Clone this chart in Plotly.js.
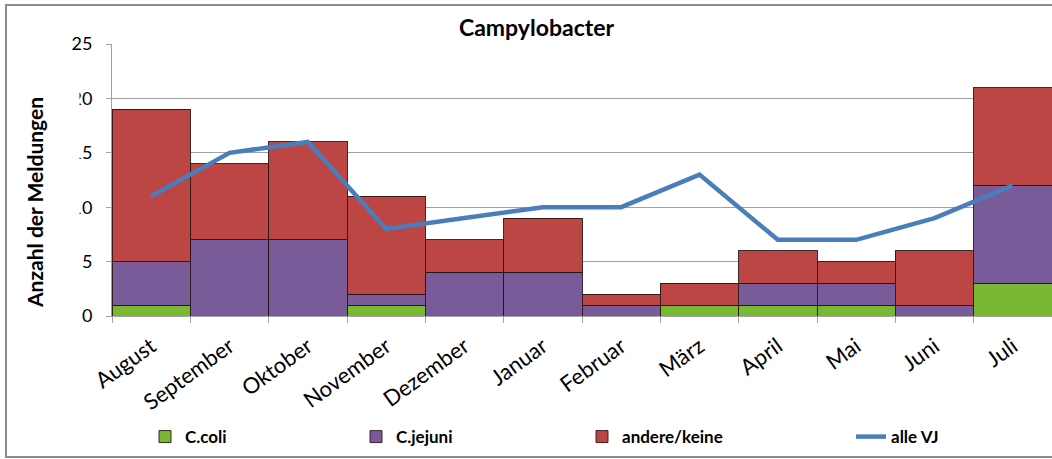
<!DOCTYPE html>
<html>
<head>
<meta charset="utf-8">
<script src="https://cdn.plot.ly/plotly-3.0.1.min.js"></script>
<style>html,body{margin:0;padding:0;background:#fff}#chart{width:1052px;height:459px}</style>
</head>
<body>
<div id="chart"></div>
<script>
const months = ["August","September","Oktober","November","Dezember","Januar","Februar","März","April","Mai","Juni","Juli"];
const cColi = [1, null, null, 1, null, null, null, 1, 1, 1, null, 3];
const cJejuni = [4, 7, 7, 1, 4, 4, 1, null, 2, 2, 1, 9];
const andere = [14, 7, 9, 9, 3, 5, 1, 2, 3, 2, 5, 9];
const alleVJ = [11, 15, 16, 8, 9, 10, 10, 13, 7, 7, 9, 12];
const yTickVals = [0, 5, 10, 15, 20, 25];
const yTickText = ["0", "5", "10", "15", "20", "25"];

const FONT = "Lato, 'Open Sans', sans-serif";
const edge = {color: "rgba(40,20,20,0.9)", width: 1};

const traces = [
  {type: "bar", name: "C.coli", x: months, y: cColi, marker: {color: "#78B833", line: edge}, legend: "legend"},
  {type: "bar", name: "C.jejuni", x: months, y: cJejuni, marker: {color: "#7A5B99", line: edge}, legend: "legend2"},
  {type: "bar", name: "andere/keine", x: months, y: andere, marker: {color: "#BC4644", line: edge}, legend: "legend3"},
  {type: "scatter", mode: "lines", name: "alle VJ", x: months, y: alleVJ, line: {color: "#4A7EBB", width: 4.5}, legend: "legend4"}
];

function lg(px) {
  return {x: (px - 112) / 940, xanchor: "left", y: -0.445, yanchor: "middle", orientation: "h",
    bgcolor: "rgba(0,0,0,0)", font: {family: FONT, size: 17, color: "#000", weight: "bold"}};
}

const layout = {
  width: 1052, height: 459,
  margin: {l: 112, r: 0, t: 44, b: 143},
  paper_bgcolor: "#fff", plot_bgcolor: "#fff",
  barmode: "stack", bargap: 0,
  showlegend: true,
  title: {text: "<b>Campylobacter</b>", x: 0.51, xref: "container", xanchor: "center", y: 1 - 28 / 459, yref: "container", yanchor: "middle",
    font: {family: FONT, size: 23, color: "#000"}},
  xaxis: {type: "category", tickson: "boundaries", ticks: "outside", ticklen: 6, tickcolor: "#A0A0A0",
    showline: true, linecolor: "#A0A0A0", linewidth: 1, showgrid: false, tickangle: -36,
    tickfont: {family: FONT, size: 22, color: "#000"}, ticklabelstandoff: 8, fixedrange: true},
  yaxis: {range: [0, 25], tickvals: yTickVals, ticktext: yTickText, ticks: "outside", ticklen: 5, tickcolor: "#A0A0A0",
    showline: true, linecolor: "#A0A0A0", showgrid: true, gridcolor: "#A0A0A0", gridwidth: 1, zeroline: false,
    tickfont: {family: FONT, size: 18, color: "#000"}, ticklabelstandoff: 10, fixedrange: true},
  legend: lg(145), legend2: lg(356), legend3: lg(582), legend4: lg(851),
  annotations: [
    {text: "<b>Anzahl der Meldungen</b>", xref: "paper", yref: "paper", x: (35 - 112) / 940, y: (316 - 203) / 272,
      xanchor: "center", yanchor: "middle", textangle: -90, showarrow: false, font: {family: FONT, size: 21, color: "#000"}}
  ],
  shapes: [
    {type: "rect", xref: "paper", yref: "paper", x0: (6 - 112) / 940, x1: 1.2, y0: (316 - 457) / 272, y1: (316 - 5) / 272,
      line: {color: "#8C8C8C", width: 2}, fillcolor: "rgba(0,0,0,0)", layer: "below"},
    {type: "rect", xref: "paper", yref: "paper", x0: (55 - 112) / 940, x1: (79.5 - 112) / 940, y0: (316 - 225) / 272, y1: (316 - 86) / 272,
      line: {width: 0}, fillcolor: "#fff", layer: "above"}
  ]
};

Plotly.newPlot("chart", traces, layout, {displayModeBar: false, staticPlot: true});
</script>
</body>
</html>
